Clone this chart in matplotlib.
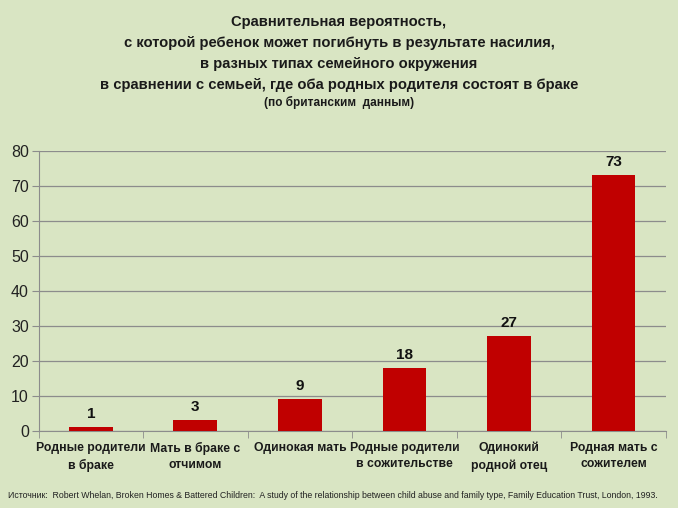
import matplotlib
matplotlib.use("Agg")
from matplotlib import pyplot as plt
import numpy as np

categories = ["Родные родители\nв браке", "Мать в браке с\nотчимом", "Одинокая мать",
              "Родные родители\nв сожительстве", "Одинокий\nродной отец", "Родная мать с\nсожителем"]
values = [1, 3, 9, 18, 27, 73]

title_lines = ["Сравнительная вероятность,",
               "с которой ребенок может погибнуть в результате насилия,",
               "в разных типах семейного окружения",
               "в сравнении с семьей, где оба родных родителя состоят в браке"]
subtitle = "(по британским  данным)"
source = ("Источник:  Robert Whelan, Broken Homes & Battered Children:  A study of the relationship "
          "between child abuse and family type, Family Education Trust, London, 1993.")

plt.rcParams['font.family'] = ['Liberation Sans', 'DejaVu Sans']
bg = '#d9e5c3'

fig = plt.figure(figsize=(6.78, 5.08), dpi=100, facecolor=bg)
ax = fig.add_axes([0.057, 0.152, 0.925, 0.551])
ax.set_facecolor(bg)

x = np.arange(len(categories))
ax.bar(x, values, width=0.42, color='#c00000', zorder=3)
for xi, v in zip(x, values):
    ax.text(xi, v + 1.8, str(v), ha='center', va='bottom', fontsize=11, fontweight='bold', color='#111111')

ax.set_xlim(-0.5, len(categories) - 0.5)
ax.set_ylim(0, 80)
ax.set_yticks(range(0, 81, 10))
ax.yaxis.grid(True, color='#8c8c8c', linewidth=0.9, zorder=0)
ax.set_xticks(np.arange(len(categories) + 1) - 0.5, minor=True)
ax.set_xticks(x)
ax.set_xticklabels(categories, fontsize=8.8, fontweight='bold', color='#1a1a1a', linespacing=1.5)
ax.tick_params(axis='x', which='major', length=0, pad=8)
ax.tick_params(axis='x', which='minor', length=5, color='#8c8c8c')
ax.tick_params(axis='y', length=5, color='#8c8c8c', labelsize=11.5, labelcolor='#222222', pad=2)
for s in ['top', 'right']:
    ax.spines[s].set_visible(False)
for s in ['left', 'bottom']:
    ax.spines[s].set_color('#8c8c8c')

ys = [22, 43, 64, 85]
for t, y in zip(title_lines, ys):
    fig.text(0.5, 1 - y / 508, t, ha='center', va='center', fontsize=10.6, fontweight='bold', color='#1a1a1a')
fig.text(0.5, 1 - 102 / 508, subtitle, ha='center', va='center', fontsize=8.5, fontweight='bold', color='#1a1a1a')
fig.text(8 / 678, 1 - 495 / 508, source, ha='left', va='center', fontsize=6.35, color='#222222')

fig.savefig("out.png", dpi=100, facecolor=bg)
